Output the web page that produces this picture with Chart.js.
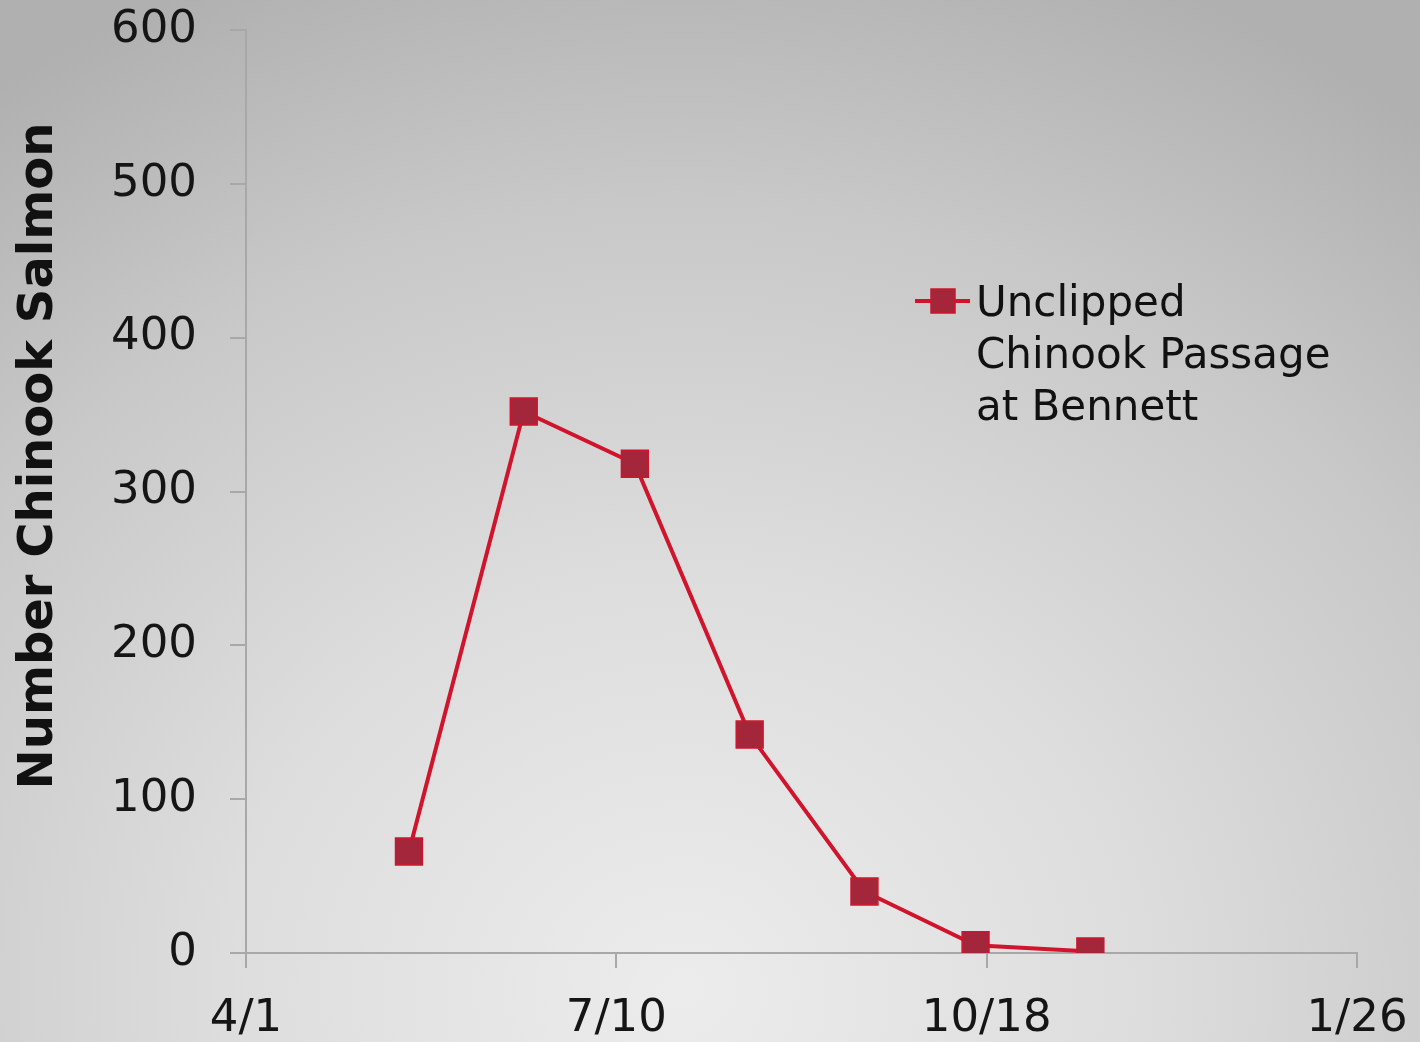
<!DOCTYPE html>
<html>
<head>
<meta charset="utf-8">
<script src="https://cdn.jsdelivr.net/npm/chart.js@4"></script>
<style>
  html, body { margin: 0; padding: 0; }
  body {
    width: 1420px; height: 1042px; overflow: hidden;
    background: radial-gradient(ellipse 85% 105% at 48% 95%, #ececec 0%, #dddddd 38%, #c8c8c8 72%, #b0b0b0 100%);
  }
  canvas { display: block; }
</style>
</head>
<body>
<canvas id="c" width="1420" height="1042"></canvas>
<script>
// Days after 4/1 (sampling dates ~ mid-May to mid-Nov)
const sampleDays = [44, 75, 105, 136, 167, 197, 228];
const chinookCounts = [66, 352, 318, 142, 40, 5, 1];
const xTickDays = [0, 100, 200, 300];
const xTickLabels = ['4/1', '7/10', '10/18', '1/26'];
const yTicks = [0, 100, 200, 300, 400, 500, 600];
const seriesLabelLines = ['Unclipped', 'Chinook Passage', 'at Bennett'];
const yTitle = 'Number Chinook Salmon';

const LINE = '#d0142c';
const MARK = '#a3263a';
const AXIS = '#a8a8a8';
const FONT = "'DejaVu Sans', Verdana, sans-serif";

const legendPlugin = {
  id: 'customLegend',
  afterDraw(chart) {
    const ctx = chart.ctx;
    ctx.save();
    ctx.strokeStyle = LINE; ctx.lineWidth = 4;
    ctx.beginPath(); ctx.moveTo(915, 301); ctx.lineTo(970, 301); ctx.stroke();
    ctx.fillStyle = MARK; ctx.strokeStyle = LINE; ctx.lineWidth = 1.5;
    ctx.fillRect(931, 289, 24, 24); ctx.strokeRect(931, 289, 24, 24);
    ctx.fillStyle = '#111';
    ctx.font = '42px ' + FONT;
    ctx.textBaseline = 'alphabetic'; ctx.textAlign = 'left';
    seriesLabelLines.forEach((t, i) => ctx.fillText(t, 976, 316 + i * 52));
    ctx.translate(52, 456);
    ctx.rotate(-Math.PI / 2);
    ctx.font = 'bold 48px ' + FONT;
    ctx.textAlign = 'center'; ctx.textBaseline = 'alphabetic';
    ctx.fillText(yTitle, 0, 0);
    ctx.restore();
  }
};

new Chart(document.getElementById('c'), {
  type: 'line',
  data: {
    datasets: [{
      label: seriesLabelLines.join(' '),
      data: sampleDays.map((d, i) => ({ x: d, y: chinookCounts[i] })),
      borderColor: LINE,
      borderWidth: 4,
      backgroundColor: MARK,
      pointStyle: 'rect',
      pointRadius: 19,
      pointBorderWidth: 1.5,
      pointBorderColor: LINE,
      pointBackgroundColor: MARK,
      tension: 0
    }]
  },
  options: {
    responsive: false,
    devicePixelRatio: 1,
    animation: false,
    layout: { padding: { top: 30, right: 63, left: 0, bottom: 0 } },
    plugins: { legend: { display: false }, tooltip: { enabled: false } },
    scales: {
      x: {
        type: 'linear', min: 0, max: 300,
        afterBuildTicks: s => { s.ticks = xTickDays.map(v => ({ value: v })); },
        afterFit: s => { s.height = 89; s.paddingLeft = 0; s.paddingRight = 0; s.paddingTop = 0; s.paddingBottom = 0; },
        ticks: {
          callback: (v) => xTickLabels[xTickDays.indexOf(v)],
          color: '#151515', font: { family: FONT, size: 45 }, padding: 24,
          maxRotation: 0, autoSkip: false
        },
        grid: { display: true, drawOnChartArea: false, drawTicks: true, tickLength: 15, color: AXIS, lineWidth: 2 },
        border: { display: true, color: AXIS, width: 2 }
      },
      y: {
        type: 'linear', min: 0, max: 600,
        afterBuildTicks: s => { s.ticks = yTicks.map(v => ({ value: v })); },
        afterFit: s => { s.width = 246; s.paddingLeft = 0; s.paddingRight = 0; s.paddingTop = 0; s.paddingBottom = 0; },
        ticks: { color: '#151515', font: { family: FONT, size: 45 }, padding: 33 },
        grid: { display: true, drawOnChartArea: false, drawTicks: true, tickLength: 16, color: AXIS, lineWidth: 2 },
        border: { display: true, color: AXIS, width: 2 }
      }
    }
  },
  plugins: [legendPlugin]
});
</script>
</body>
</html>
